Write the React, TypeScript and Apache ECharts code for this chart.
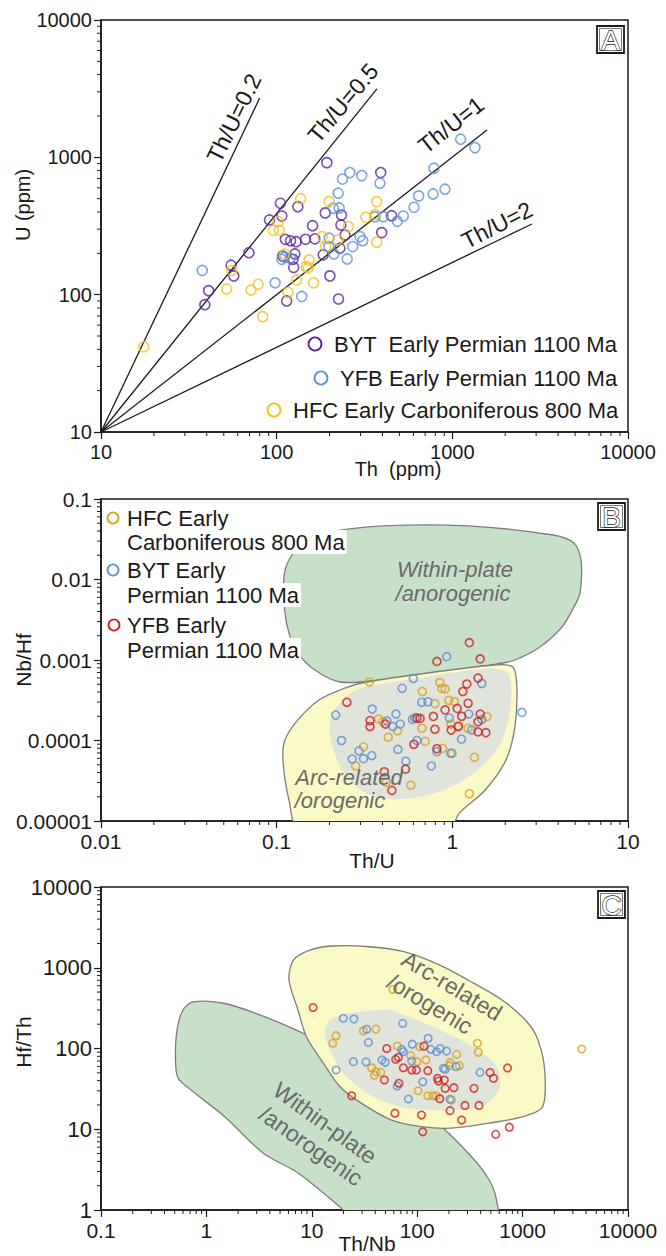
import React, { useEffect, useRef } from 'react';
import * as echarts from 'echarts';

const FONT = '"Liberation Sans", Arial, Helvetica, sans-serif';
const INK = '#1a1a1a';

const PURPLE = '#5a2398';
const BLUE = '#5b8fd8';
const YELLOW_A = '#f2c118';
const GOLD = '#d9a01c';
const RED = '#d11c1c';
const GREEN_FILL = '#c7e1c9';
const YELLOW_FILL = '#fbf9c6';
const GRAY_FILL = '#e1e4da';
const FIELD_STROKE = '#7d7d7d';
const FIELD_TEXT = '#6a6a6a';

// ---------- tick labels ----------
const A_X_LABELS = ['10', '100', '1000', '10000'];
const A_Y_LABELS = ['10', '100', '1000', '10000'];
const B_X_LABELS = ['0.01', '0.1', '1', '10'];
const B_Y_LABELS = ['0.00001', '0.0001', '0.001', '0.01', '0.1'];
const C_X_LABELS = ['0.1', '1', '10', '100', '1000', '10000'];
const C_Y_LABELS = ['1', '10', '100', '1000', '10000'];
const MINOR_MULTS = [2, 3, 4, 5, 6, 7, 8, 9];

// ---------- Panel A: Th vs U ----------
const A_BYT = [
  [193, 915], [105, 463], [132, 437], [107, 374], [91, 350], [160, 318], [189, 394],
  [112, 253], [120, 247], [129, 243], [146, 253], [165, 255], [69.5, 202], [127, 198],
  [108, 191], [124, 181], [125, 158], [184, 195], [55, 164], [57, 137], [201, 137],
  [41, 107], [39, 84.5], [114, 90], [225, 93], [391, 774], [234, 380], [245, 272],
  [229, 218], [451, 376], [396, 283], [232, 322],
];
const A_YFB = [
  [37.7, 150], [98, 122], [139, 97], [107, 181], [111, 187], [119.5, 184], [199, 258],
  [198, 224], [212, 198], [224, 548], [210, 426], [227, 428], [237, 695], [261, 774],
  [305, 736], [387, 648], [1115, 1355], [1345, 1177], [786, 833], [908, 586], [778, 541],
  [643, 524], [605, 433], [526, 374], [486, 342], [363, 370], [404, 370], [298, 265],
  [309, 247], [271, 224], [252, 182],
];
const A_HFC = [
  [17.5, 41.8], [137, 500], [199, 476], [102, 340], [95.7, 294], [103.5, 294], [182, 265],
  [111, 198], [153, 179], [147, 160], [151, 157], [55.6, 150], [190, 224], [130, 128],
  [162, 122], [78.5, 119], [71.4, 108], [51.9, 110], [116, 104], [83.2, 69.2], [223, 250],
  [371, 476], [363, 385], [322, 366], [256, 313], [371, 241],
];
const TH_U_ORIGIN = [10, 10];
const TH_U_LINES = [
  { label: 'Th/U=0.2', end: [80, 2700] },
  { label: 'Th/U=0.5', end: [372, 3150] },
  { label: 'Th/U=1', end: [1575, 1580] },
  { label: 'Th/U=2', end: [2840, 327] },
];

// ---------- Panel B: Th/U vs Nb/Hf ----------
const B_HFC = [
  [0.337, 0.000533], [0.849, 0.000525], [0.87, 0.000445], [0.91, 0.000436], [0.675, 0.000406],
  [0.796, 0.000287], [0.955, 0.000315], [1.028, 0.000303], [0.38, 0.000185], [0.403, 0.000172],
  [0.488, 0.000132], [0.672, 0.000142], [0.981, 0.00016], [1.085, 0.000152], [1.23, 0.000142],
  [1.574, 0.000198], [0.432, 0.00011], [0.7, 0.0000975], [0.312, 0.0000835], [0.881, 0.00008],
  [0.998, 0.0000694], [0.282, 0.0000482], [1.336, 0.0000618], [0.42, 0.0000303],
  [0.581, 0.0000279], [1.25, 0.0000218],
];
const B_BYT = [
  [0.929, 0.0011], [0.6, 0.000589], [0.518, 0.000445], [1.47, 0.000511], [2.49, 0.000223],
  [0.217, 0.000207], [0.35, 0.000246], [0.234, 0.0001], [0.478, 0.000213], [0.425, 0.000175],
  [0.459, 0.000149], [0.505, 0.00016], [0.593, 0.000183], [0.612, 0.000191], [0.67, 0.000298],
  [0.726, 0.000303], [0.49, 0.0000775], [0.629, 0.0001], [0.544, 0.0000552], [0.76, 0.0000482],
  [0.817, 0.0000726], [0.981, 0.0000694], [0.962, 0.00019], [1.127, 0.000104], [1.24, 0.000213],
  [1.29, 0.000135], [1.47, 0.000183], [0.269, 0.0000589], [0.294, 0.0000745], [0.312, 0.0000595],
  [0.348, 0.000065],
];
const B_YFB = [
  [1.25, 0.00164], [1.44, 0.00103], [0.817, 0.00096], [1.4, 0.000597], [1.21, 0.000503],
  [1.148, 0.000406], [0.251, 0.000298], [1.23, 0.00029], [1.066, 0.00025], [1.44, 0.000213],
  [0.91, 0.00024], [0.34, 0.000177], [0.34, 0.000149], [0.416, 0.00016], [0.629, 0.00019],
  [0.655, 0.000188], [0.78, 0.000199], [1.13, 0.0002], [1.4, 0.000171], [1.08, 0.000149],
  [0.796, 0.000138], [0.985, 0.000135], [1.4, 0.000128], [1.552, 0.000125], [0.604, 0.0000898],
  [0.817, 0.000079], [0.41, 0.0000409], [0.541, 0.000044], [0.453, 0.000024],
];
const B_WITHIN_PLATE = [
  [0.1175, 0.01746], [0.145, 0.031], [0.184, 0.0379], [0.403, 0.0463], [1.23, 0.0463],
  [3.74, 0.0357], [4.92, 0.0284], [5.4, 0.01746], [5.33, 0.00679], [4.92, 0.00455],
  [4.21, 0.00257], [3.15, 0.00145], [2.27, 0.001], [1.77, 0.00089], [0.85, 0.00071],
  [0.39, 0.000565], [0.229, 0.000533], [0.165, 0.00075], [0.132, 0.00122], [0.1175, 0.00216],
  [0.111, 0.00418], [0.11, 0.0107],
];
const B_ARC = [
  [0.306, 0.000518], [0.654, 0.00067], [1.73, 0.000867], [2.21, 0.000819], [2.33, 0.000462],
  [2.27, 0.000147], [2.02, 0.0000573], [1.54, 0.0000243], [1.1, 0.0000126], [0.944, 0.0000077],
  [0.1357, 0.0000077], [0.1175, 0.0000182], [0.1086, 0.0000573], [0.1114, 0.000101],
  [0.132, 0.00018], [0.174, 0.000318], [0.229, 0.000424],
];
const B_CORE = [
  [0.2064, 0.000207], [0.245, 0.000347], [0.306, 0.000449], [0.654, 0.000597], [1.62, 0.00079],
  [2.07, 0.00069], [2.16, 0.000318], [1.92, 0.000101], [1.46, 0.0000469], [0.98, 0.0000264],
  [0.6, 0.0000193], [0.358, 0.0000199], [0.258, 0.0000323], [0.2175, 0.0000624], [0.201, 0.000124],
];

// ---------- Panel C: Th/Nb vs Hf/Th ----------
const C_YFB = [
  [10.3, 322], [51.4, 100], [62.5, 73.4], [66.2, 77.8], [73.9, 57.8], [88.7, 54.2], [98.4, 54.2],
  [126, 53.1], [48.8, 40.7], [67.1, 37.1], [23.9, 26], [61.5, 15.8], [116, 107], [156, 42.8],
  [159, 39.6], [181, 40.7], [184, 32.1], [223, 32.7], [346, 32.1], [491, 50.4], [530, 42.8],
  [719, 57.4], [164, 23.9], [284, 19.7], [386, 19.7], [205, 17], [110, 15], [264, 13],
  [113, 9.3], [556, 8.65], [748, 10.6],
];
const C_BYT = [
  [19.9, 237], [25.1, 232], [72.8, 205], [33.2, 173], [34.4, 119], [24.8, 68.7], [32.7, 68.1],
  [46.3, 72.1], [49.8, 67.5], [71.3, 97.7], [73.8, 91.2], [89.9, 113], [88.7, 70], [17, 54.2],
  [64.7, 34.3], [82.4, 23.7], [127, 134], [135, 97.7], [153, 91.2], [165, 100], [190, 93.1],
  [177, 56.9], [184, 55.2], [234, 59.6], [394, 50.7], [113, 38.7], [205, 23.5],
];
const C_HFC = [
  [58.6, 541], [17, 144], [15.8, 116], [30.8, 165], [40.6, 174], [64.7, 107], [86.7, 81.5],
  [37, 57.8], [40.6, 51.6], [45.1, 50.7], [39.2, 46.6], [106, 105], [237, 84.7], [121, 72.1],
  [205, 66.7], [202, 61.2], [251, 61.2], [372, 116], [380, 89.7], [3640, 98.6], [102, 30],
  [126, 26], [140, 26], [151, 26], [212, 23], [99.6, 68.6],
];
const C_WITHIN_PLATE = [
  [0.6, 300], [0.746, 377], [1.41, 366], [2.89, 275], [7.4, 165], [14.9, 101.5], [35.6, 40.7],
  [85.5, 23], [164.5, 11.3], [317, 4.8], [470, 2.49], [560, 1.41], [560, 0.65], [28.7, 0.65],
  [18.5, 1.09], [7.4, 2.87], [3.44, 5.08], [1.5, 14.2], [0.715, 30.6], [0.538, 43.2],
  [0.509, 72.1], [0.526, 169],
];
const C_ARC = [
  [9.74, 1660], [15.5, 1860], [35.7, 1820], [75, 1580], [164, 1080], [303, 705], [638, 399],
  [1125, 207], [1400, 127], [1620, 54], [1550, 19], [1010, 14.3], [480, 11.9], [209, 10.3],
  [109, 10.8], [57, 13], [29.7, 20.9], [18.5, 33.6], [12.9, 65.6], [8.89, 140], [7.4, 300],
  [6.08, 705], [6.72, 1250],
];
const C_CORE = [
  [14.9, 225], [23, 275], [55, 300], [68.7, 273], [141, 186], [338, 105], [568, 59.6],
  [611, 33.6], [456, 20.9], [255, 17.3], [123, 17.3], [68.7, 19], [35.7, 26.5], [19.8, 49.7],
  [14.9, 95.7], [13.3, 156],
];

// ---------- helpers ----------
function logAxis(kind: 'x' | 'y', gridIndex: number, min: number, max: number, labels: string[], e0: number, fontSize: number) {
  return {
    type: 'log',
    logBase: 10,
    gridIndex,
    min,
    max,
    axisLine: { show: true, onZero: false, lineStyle: { color: INK, width: 1.5 } },
    axisTick: { show: true, inside: false, length: 7, lineStyle: { color: INK, width: 1.2 } },
    minorTick: { show: false },
    splitLine: { show: false },
    axisLabel: {
      show: true,
      color: INK,
      fontFamily: FONT,
      fontSize,
      margin: kind === 'x' ? 10 : 9,
      formatter: (v: number) => {
        const e = Math.round(Math.log10(v));
        return labels[e - e0] ?? '';
      },
    },
  };
}

function minorTicks(axis: 'x' | 'y', gridIndex: number, decades: number[], fixed: number) {
  const data: number[][] = [];
  decades.forEach((d) =>
    MINOR_MULTS.forEach((m) => {
      const v = m * Math.pow(10, d);
      data.push(axis === 'x' ? [v, fixed] : [fixed, v]);
    })
  );
  return {
    type: 'custom',
    xAxisIndex: gridIndex,
    yAxisIndex: gridIndex,
    silent: true,
    clip: false,
    z: 6,
    data,
    renderItem: (_p: any, api: any) => {
      const p = api.coord([api.value(0), api.value(1)]);
      const len = 4;
      return {
        type: 'line',
        shape: axis === 'x'
          ? { x1: p[0], y1: p[1], x2: p[0], y2: p[1] + len }
          : { x1: p[0] - len, y1: p[1], x2: p[0], y2: p[1] },
        style: { stroke: INK, lineWidth: 1 },
      };
    },
  };
}

function field(gridIndex: number, poly: number[][], fill: string, stroke?: string) {
  return {
    type: 'custom',
    xAxisIndex: gridIndex,
    yAxisIndex: gridIndex,
    silent: true,
    clip: true,
    z: 1,
    data: [poly[0]],
    renderItem: (_p: any, api: any) => ({
      type: 'polygon',
      shape: { points: poly.map((pt) => api.coord(pt)), smooth: 0.3 },
      style: { fill, stroke: stroke ?? 'none', lineWidth: stroke ? 1.3 : 0 },
    }),
  };
}

function scat(gridIndex: number, name: string, data: number[][], color: string, size: number) {
  return {
    type: 'scatter',
    name,
    xAxisIndex: gridIndex,
    yAxisIndex: gridIndex,
    data,
    symbol: 'circle',
    symbolSize: size,
    z: 5,
    silent: true,
    itemStyle: { color: 'rgba(255,255,255,0)', borderColor: color, borderWidth: 1.6 },
  };
}

function txt(x: number, y: number, text: string, fontSize: number, opts: any = {}) {
  return {
    type: 'text',
    x,
    y,
    rotation: opts.rotation ?? 0,
    z: 100,
    style: {
      text,
      fontSize,
      fontFamily: FONT,
      fontStyle: opts.italic ? 'italic' : 'normal',
      fill: opts.fill ?? INK,
      align: opts.align ?? 'center',
      verticalAlign: 'middle',
      backgroundColor: opts.bg,
      padding: opts.bg ? [1, 2, 1, 0] : 0,
    },
  };
}

function panelTag(x: number, y: number, letter: string) {
  return [
    { type: 'rect', z: 100, shape: { x, y, width: 27, height: 27 }, style: { fill: '#fff', stroke: INK, lineWidth: 1.8 } },
    { type: 'rect', z: 100, shape: { x: x + 2.5, y: y + 2.5, width: 22, height: 22 }, style: { fill: 'none', stroke: '#555', lineWidth: 0.8 } },
    {
      type: 'text', x: x + 13.5, y: y + 14.5, z: 101,
      style: { text: letter, fontSize: 28, fontFamily: FONT, fill: '#fff', stroke: INK, lineWidth: 1.3, align: 'center', verticalAlign: 'middle' },
    },
  ];
}

function circ(cx: number, cy: number, r: number, color: string) {
  return { type: 'circle', z: 100, shape: { cx, cy, r }, style: { fill: 'none', stroke: color, lineWidth: 1.8 } };
}

function buildOption() {
  const deg = Math.PI / 180;
  const gridStyle = { show: true, borderColor: INK, borderWidth: 1.5, backgroundColor: 'transparent' };
  return {
    animation: false,
    grid: [
      { left: 101, top: 20, width: 527, height: 412, ...gridStyle },
      { left: 101, top: 499, width: 527, height: 322, ...gridStyle },
      { left: 101, top: 887, width: 527, height: 323, ...gridStyle },
    ],
    xAxis: [
      logAxis('x', 0, 10, 10000, A_X_LABELS, 1, 20),
      logAxis('x', 1, 0.01, 10, B_X_LABELS, -2, 21),
      logAxis('x', 2, 0.1, 10000, C_X_LABELS, -1, 21),
    ],
    yAxis: [
      logAxis('y', 0, 10, 10000, A_Y_LABELS, 1, 20),
      logAxis('y', 1, 0.00001, 0.1, B_Y_LABELS, -5, 21),
      logAxis('y', 2, 1, 10000, C_Y_LABELS, 0, 22),
    ],
    series: [
      // fields
      field(1, B_WITHIN_PLATE, GREEN_FILL, FIELD_STROKE),
      field(1, B_ARC, YELLOW_FILL, FIELD_STROKE),
      field(1, B_CORE, GRAY_FILL),
      field(2, C_WITHIN_PLATE, GREEN_FILL, FIELD_STROKE),
      field(2, C_ARC, YELLOW_FILL, FIELD_STROKE),
      field(2, C_CORE, GRAY_FILL),
      // Th/U reference lines
      ...TH_U_LINES.map((l) => ({
        type: 'line', xAxisIndex: 0, yAxisIndex: 0, data: [TH_U_ORIGIN, l.end], symbol: 'none',
        silent: true, z: 3, lineStyle: { color: INK, width: 1.3 },
      })),
      // points
      scat(0, 'BYT', A_BYT, PURPLE, 10),
      scat(0, 'YFB', A_YFB, BLUE, 10),
      scat(0, 'HFC', A_HFC, YELLOW_A, 10),
      scat(1, 'HFC', B_HFC, GOLD, 8),
      scat(1, 'BYT', B_BYT, BLUE, 8),
      scat(1, 'YFB', B_YFB, RED, 8),
      scat(2, 'HFC', C_HFC, GOLD, 7.5),
      scat(2, 'BYT', C_BYT, BLUE, 7.5),
      scat(2, 'YFB', C_YFB, RED, 7.5),
      // minor ticks
      minorTicks('x', 0, [1, 2, 3], 10),
      minorTicks('y', 0, [1, 2, 3], 10),
      minorTicks('x', 1, [-2, -1, 0], 0.00001),
      minorTicks('y', 1, [-5, -4, -3, -2], 0.01),
      minorTicks('x', 2, [-1, 0, 1, 2, 3], 1),
      minorTicks('y', 2, [0, 1, 2, 3], 0.1),
    ],
    graphic: [
      // panel tags
      ...panelTag(597, 26, 'A'),
      ...panelTag(598, 503, 'B'),
      ...panelTag(598, 891, 'C'),
      // Th/U line labels
      txt(234, 118, TH_U_LINES[0].label, 23, { rotation: 64 * deg }),
      txt(343, 103, TH_U_LINES[1].label, 23, { rotation: 50 * deg }),
      txt(451, 125, TH_U_LINES[2].label, 23, { rotation: 38 * deg }),
      txt(497, 225, TH_U_LINES[3].label, 23, { rotation: 27 * deg }),
      // legend A
      circ(315, 344, 6.5, PURPLE),
      txt(334, 344, 'BYT  Early Permian 1100 Ma', 22, { align: 'left' }),
      circ(321, 378, 6.5, BLUE),
      txt(340, 378, 'YFB Early Permian 1100 Ma', 22, { align: 'left' }),
      circ(274, 410, 6.5, YELLOW_A),
      txt(293, 410, 'HFC Early Carboniferous 800 Ma', 22, { align: 'left' }),
      // legend B
      circ(113, 518, 5.5, GOLD),
      txt(127, 518, 'HFC Early', 22, { align: 'left', bg: '#fff' }),
      txt(127, 542, 'Carboniferous 800 Ma', 22, { align: 'left', bg: '#fff' }),
      circ(113, 570, 5.5, BLUE),
      txt(127, 570, 'BYT Early', 22, { align: 'left', bg: '#fff' }),
      txt(127, 595, 'Permian 1100 Ma', 22, { align: 'left', bg: '#fff' }),
      circ(114, 625, 5.5, RED),
      txt(127, 625, 'YFB Early', 22, { align: 'left', bg: '#fff' }),
      txt(127, 650, 'Permian 1100 Ma', 22, { align: 'left', bg: '#fff' }),
      // field labels B
      txt(455, 569, 'Within-plate', 22, { italic: true, fill: FIELD_TEXT }),
      txt(453, 593, '/anorogenic', 22, { italic: true, fill: FIELD_TEXT }),
      txt(349, 777, 'Arc-related', 22, { italic: true, fill: FIELD_TEXT }),
      txt(340, 800, '/orogenic', 22, { italic: true, fill: FIELD_TEXT }),
      // field labels C
      txt(452, 986, 'Arc-related', 23, { rotation: -31 * deg, fill: FIELD_TEXT }),
      txt(430, 1004, '/orogenic', 23, { rotation: -31 * deg, fill: FIELD_TEXT }),
      txt(325, 1123, 'Within-plate', 23, { rotation: -36 * deg, fill: FIELD_TEXT }),
      txt(311, 1146, '/anorogenic', 23, { rotation: -35 * deg, fill: FIELD_TEXT }),
      // axis titles
      txt(23, 205, 'U (ppm)', 20, { rotation: 90 * deg }),
      txt(398, 469, 'Th  (ppm)', 20),
      txt(23, 660, 'Nb/Hf', 21, { rotation: 90 * deg }),
      txt(372, 860, 'Th/U', 21),
      txt(23, 1042, 'Hf/Th', 21, { rotation: 90 * deg }),
      txt(367, 1243, 'Th/Nb', 21),
    ],
  };
}

export default function App() {
  const ref = useRef<HTMLDivElement>(null);
  useEffect(() => {
    document.body.style.margin = '0';
    const chart = echarts.init(ref.current as HTMLDivElement, undefined, { renderer: 'svg' });
    chart.setOption(buildOption() as any);
    return () => chart.dispose();
  }, []);
  return <div ref={ref} style={{ width: 666, height: 1256 }} />;
}
